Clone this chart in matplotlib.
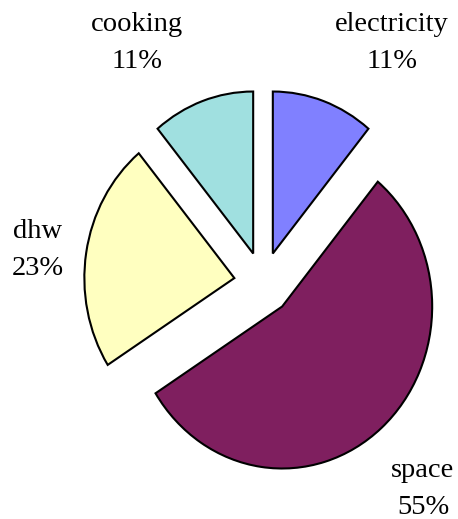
import matplotlib.pyplot as plt

labels = ['electricity', 'space', 'dhw', 'cooking']
shares = [11, 55, 23, 11]
colors = ['#8080FF', '#7F1F5F', '#FFFFC0', '#A0E0E0']

# the original pie is slightly taller than wide
stretch = 1.08

# label anchor positions in pixels (x, y from bottom)
label_pos = [(392, 476), (423, 30), (38, 269), (137, 476)]

fig = plt.figure(figsize=(4.58, 5.19), dpi=100)
ax = fig.add_axes([0, 0, 1, 1])

# explode is in data units here (pixels), since the axes span the figure
ax.pie(shares, colors=colors, startangle=90, counterclock=False,
       center=(263, 236 / stretch), radius=150, explode=[29] * 4,
       wedgeprops=dict(edgecolor='black', linewidth=1.5), frame=True)
ax.set_xlim(0, 458)
ax.set_ylim(0, 519 / stretch)
ax.set_aspect('auto')
ax.axis('off')

for name, val, (x, y) in zip(labels, shares, label_pos):
    ax.text(x, y / stretch, f'{name}\n{val}%', ha='center', va='center',
            fontsize=20.5, family='Liberation Serif', linespacing=1.65)

fig.savefig('out.png', dpi=100)
